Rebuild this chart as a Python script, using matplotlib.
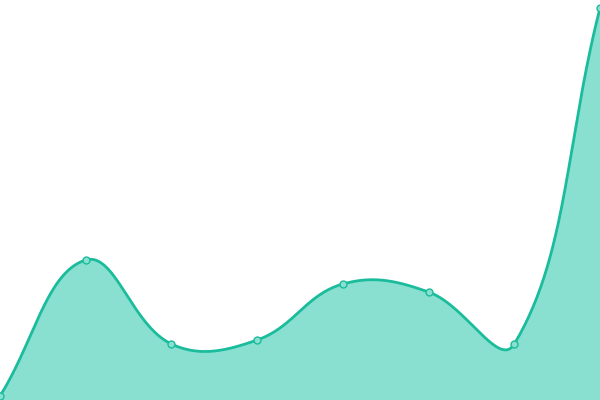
import numpy as np
import matplotlib
matplotlib.use('Agg')
import matplotlib.pyplot as plt

# values (0 = bottom edge, 400 = top edge)
categories = ['1', '2', '3', '4', '5', '6', '7', '8']
values = [4, 140, 56, 60, 116, 108, 56, 392]

line_color = '#1abc9c'
fill_color = '#8ae0d0'

W, H = 600, 400
x_px = np.linspace(0, W, len(values))


def smooth_curve(xs, ys, smooth=0.4, n=60):
    # bezier smoothing with tangents weighted by segment length
    pts = list(zip(xs, ys))
    cps = []
    for i, (x, y) in enumerate(pts):
        px, py = pts[i - 1] if i > 0 else (x, y)
        nx, ny = pts[i + 1] if i < len(pts) - 1 else (x, y)
        vx, vy = nx - px, ny - py
        l0 = np.hypot(x - px, y - py)
        l1 = np.hypot(nx - x, ny - y)
        r = l1 / (l0 + l1) if (l0 + l1) > 0 else 0.5
        cin = (x - vx * smooth * (1 - r), y - vy * smooth * (1 - r))
        cout = (x + vx * smooth * r, y + vy * smooth * r)
        cps.append((cin, cout))
    out_x, out_y = [], []
    t = np.linspace(0, 1, n)
    for i in range(len(pts) - 1):
        p0 = np.array(pts[i]); p3 = np.array(pts[i + 1])
        p1 = np.array(cps[i][1]); p2 = np.array(cps[i + 1][0])
        seg = ((1 - t) ** 3)[:, None] * p0 + (3 * (1 - t) ** 2 * t)[:, None] * p1 \
            + (3 * (1 - t) * t ** 2)[:, None] * p2 + (t ** 3)[:, None] * p3
        out_x.extend(seg[:, 0]); out_y.extend(seg[:, 1])
    return np.array(out_x), np.array(out_y)


cx, cy = smooth_curve(x_px, values)

fig = plt.figure(figsize=(6, 4), dpi=100)
ax = fig.add_axes([0, 0, 1, 1])
ax.fill_between(cx, cy, 0, color=fill_color, linewidth=0)
ax.plot(cx, cy, color=line_color, linewidth=2.0, solid_capstyle='round')
ax.plot(x_px, values, 'o', markersize=5, markerfacecolor=fill_color,
        markeredgecolor=line_color, markeredgewidth=1, clip_on=True)
ax.set_xlim(0, W)
ax.set_ylim(0, H)
ax.axis('off')

fig.savefig('out.png', dpi=100)
